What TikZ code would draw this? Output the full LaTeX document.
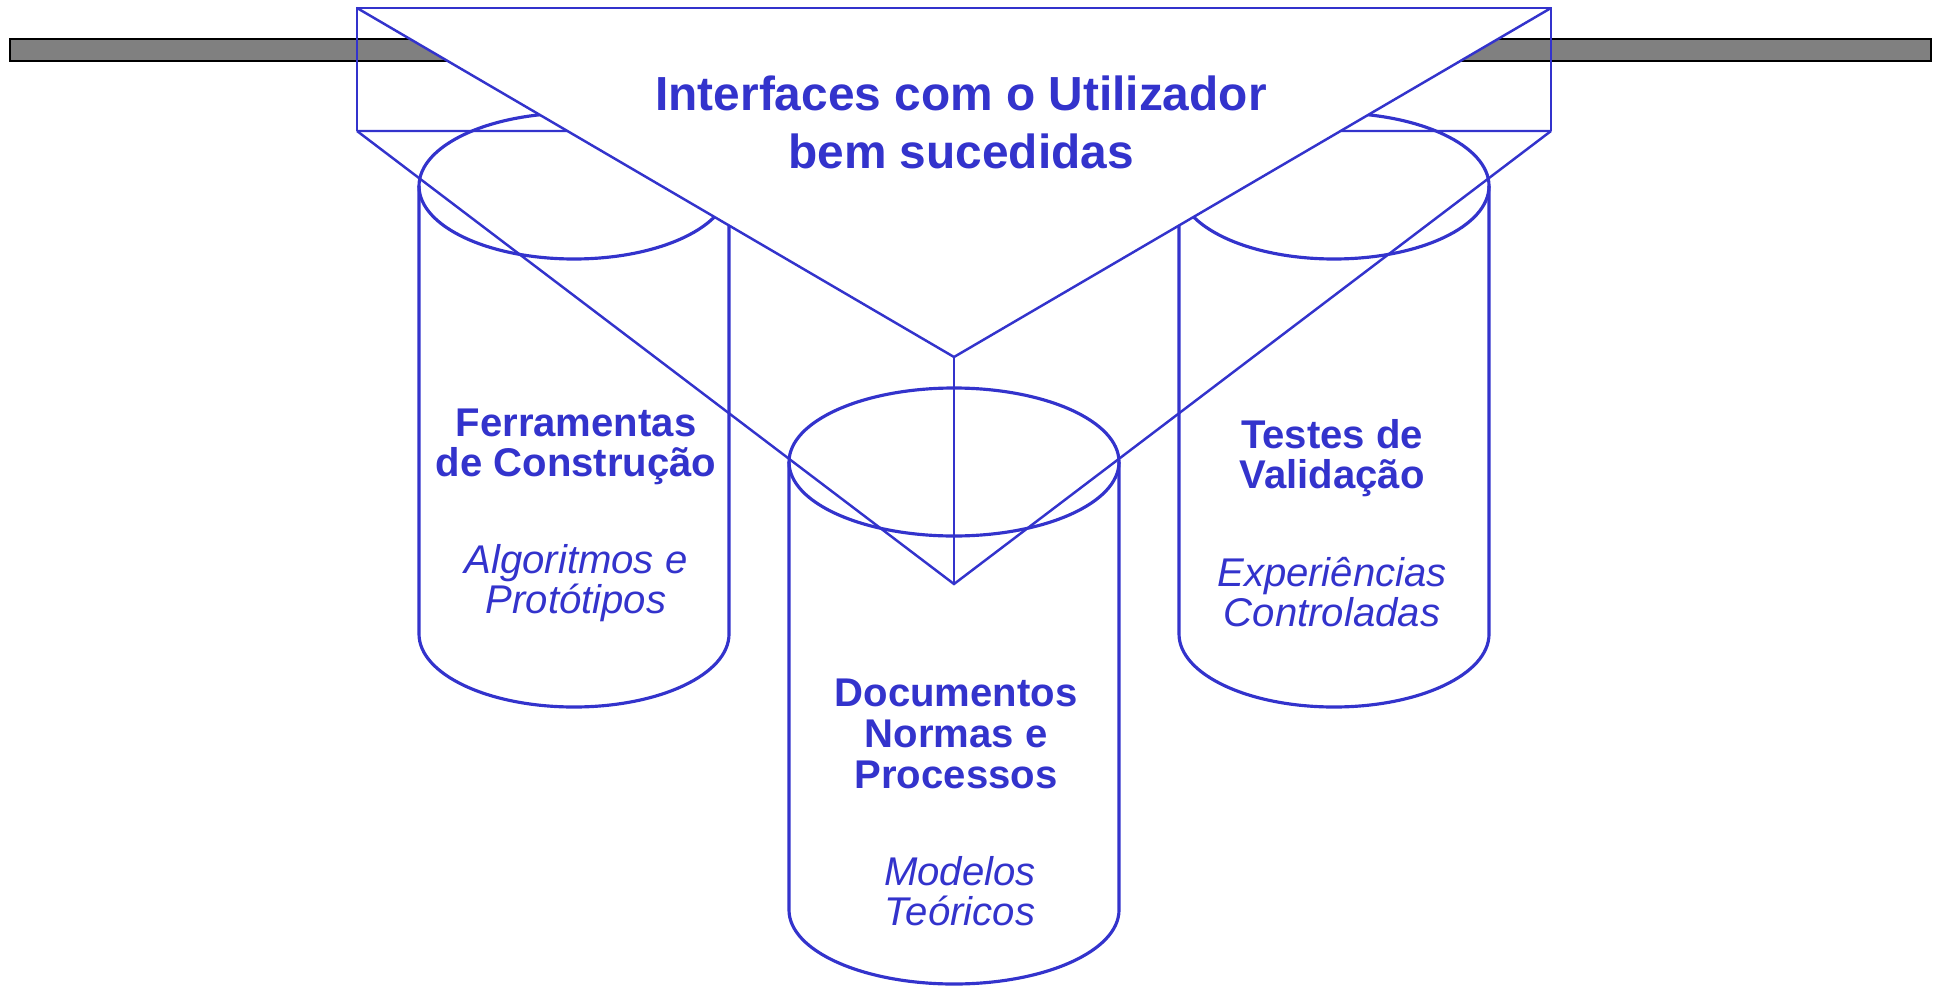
\documentclass[tikz,border=0pt]{standalone}
\usepackage{fontspec}
\setmainfont{Liberation Sans}
\usetikzlibrary{positioning}
\definecolor{inkblue}{RGB}{51,51,204}

\begin{document}
\begin{tikzpicture}[
        % one unit = one pixel of the sketch, y pointing down
        x=0.01cm, y=-0.01cm,
        node distance=0.59cm,
        every node/.style={inner sep=0pt, text=inkblue, align=center},
        title/.style={font=\fontsize{13.6}{16.5}\selectfont\bfseries, anchor=north},
        heading/.style={font=\fontsize{11.4}{11.3}\selectfont\bfseries, anchor=north},
        subline/.style={font=\fontsize{11.4}{11.3}\selectfont\itshape},
        edge/.style={draw=inkblue, line width=0.7pt},
        drum/.style={draw=inkblue, line width=0.9pt},
        bar/.style={draw=black, fill=gray, line width=0.6pt}
    ]
    \useasboundingbox (0,0) rectangle (1937,985);

    % --- Gray bar ---
    \draw[bar] (10,39) rectangle (1931,61);

    % --- Cylinders ---
    \foreach \cx/\ty/\by/\rx/\ry in {574/186/634/155/73, 954/462/910/165/74, 1334/186/634/155/73}{
        \draw[drum] (\cx-\rx,\ty) -- (\cx-\rx,\by)
            arc[start angle=180, end angle=0, x radius=\rx, y radius=\ry]
            -- (\cx+\rx,\ty);
        \draw[drum] (\cx,\ty) ellipse[x radius=\rx, y radius=\ry];
    }

    % --- Inverted pyramid ---
    \coordinate (TL) at (357,8);
    \coordinate (TR) at (1551,8);
    \coordinate (BL) at (357,131);
    \coordinate (BR) at (1551,131);
    \coordinate (apexB) at (954,357);
    \coordinate (apexF) at (954,584);
    \fill[white] (TL) -- (TR) -- (apexB) -- cycle;
    \draw[edge] (BL) -- (TL) -- (TR) -- (BR);
    \draw[edge] (TL) -- (apexB) -- (TR);
    \draw[edge] (BL) -- (apexF) -- (BR);
    \draw[edge] (apexB) -- (apexF);
    \draw[edge] (BL) -- (intersection of BL--BR and TL--apexB);
    \draw[edge] (BR) -- (intersection of BL--BR and TR--apexB);

    % --- Labels ---
    \node[title] (goal) at (961,75) {Interfaces com o Utilizador\\bem sucedidas};

    \node[heading] (tools) at (576,408) {Ferramentas\\de Construção};
    \node[subline, below=of tools] (toolsSub) {Algoritmos e\\Protótipos};

    \node[heading, font=\fontsize{11.4}{11.7}\selectfont\bfseries] (docs) at (956,678) {Documentos\\Normas e\\Processos};
    \node[subline, below=0.66cm of docs, xshift=0.04cm] (docsSub) {Modelos\\Teóricos};

    \node[heading] (tests) at (1332,419) {Testes de\\Validação};
    \node[subline, below=of tests] (testsSub) {Experiências\\Controladas};

\end{tikzpicture}
\end{document}
